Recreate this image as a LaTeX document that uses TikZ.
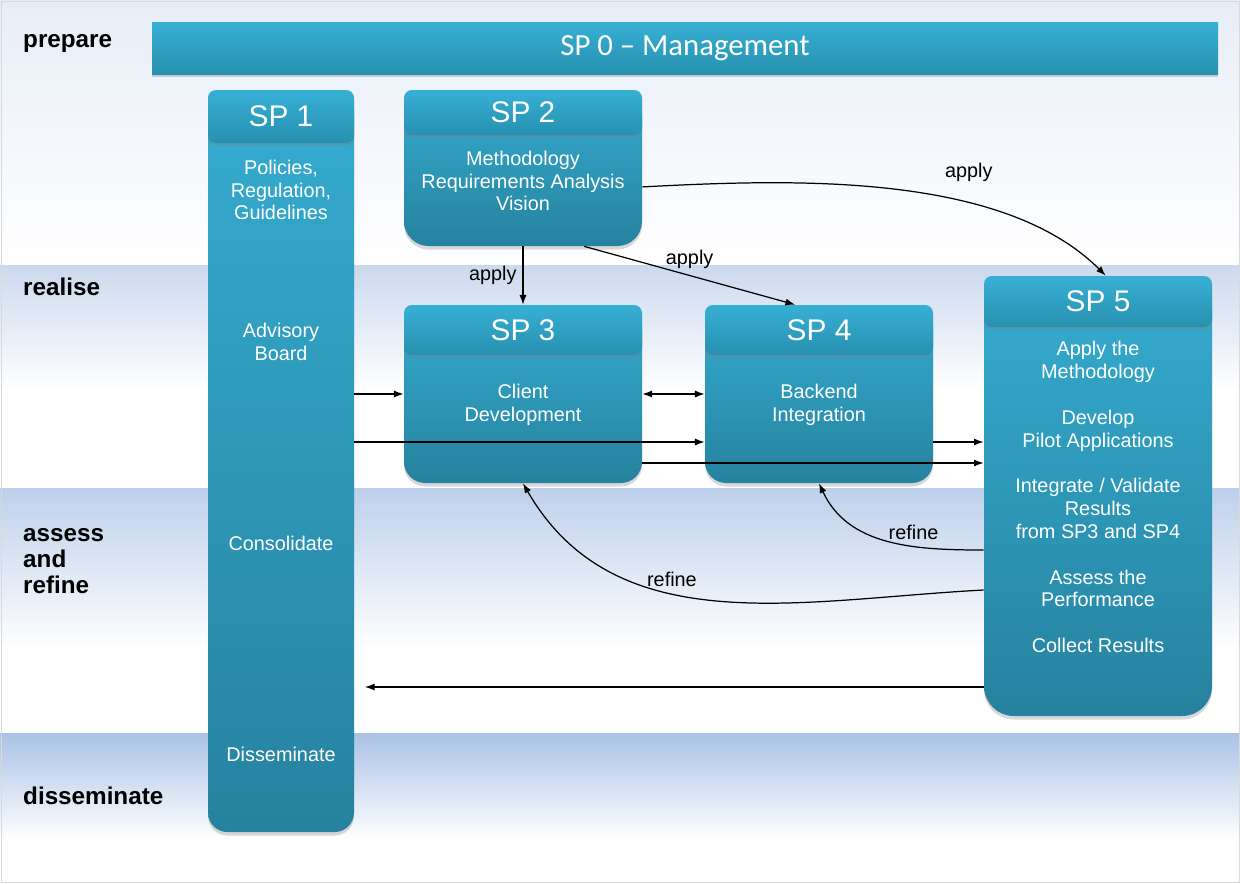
\documentclass[tikz,border=0pt]{standalone}
\usepackage{fontspec}
\setmainfont{Liberation Sans}
\newfontfamily\mgmtfont{Carlito}
\usepackage{xcolor}
\usepackage{tikz}
\usetikzlibrary{arrows.meta,positioning,fit,shadows}

\definecolor{boxtop}{HTML}{35ACD0}
\definecolor{boxbot}{HTML}{26829F}
\definecolor{headtop}{HTML}{37B0D5}
\definecolor{headbot}{HTML}{2790AF}
\definecolor{bandA}{HTML}{E7EDF7}
\definecolor{bandB}{HTML}{CBD9EE}
\definecolor{bandC}{HTML}{BDD0EB}
\definecolor{bandD}{HTML}{A9C2E5}

\begin{document}
\begin{tikzpicture}[x=0.02cm, y=-0.02cm, >={Latex[length=5.5pt,width=4pt]},
  spbody/.style={inner sep=0pt, rounded corners=#1, top color=boxtop, bottom color=boxbot,
    drop shadow={opacity=0.3, shadow xshift=0pt, shadow yshift=-2pt}},
  spbody/.default=12pt,
  sphead/.style={inner sep=0pt, rounded corners=4.5pt, top color=headtop, bottom color=headbot,
    drop shadow={opacity=0.35, shadow xshift=0pt, shadow yshift=-1.5pt}},
  sptitle/.style={text=white, font=\fontsize{17}{20}\selectfont},
  sptext/.style={text=white, align=center, font=\fontsize{11.3}{13}\selectfont},
  phase/.style={anchor=west, align=left, font=\bfseries\fontsize{13.8}{15}\selectfont},
  arrlabel/.style={font=\fontsize{11.3}{13}\selectfont},
  conn/.style={->, line width=0.7pt}]

  % phases in the background
  \useasboundingbox (0,0) rectangle (1240,883);
  \fill[white] (0,0) rectangle (1240,883);
  \shade[top color=bandA, bottom color=white] (0,0) rectangle (1240,265);
  \shade[top color=bandB, bottom color=white] (0,265) rectangle (1240,390);
  \shade[top color=bandC, bottom color=white] (0,488) rectangle (1240,650);
  \shade[top color=bandD, bottom color=white] (0,733) rectangle (1240,840);
  \draw[black!15] (1,1) rectangle (1239,882);

  \node[phase] (prep) at (17,43) {prepare};
  \node[phase] (real) at (17,287) {realise};
  \node[phase] (assr) at (17,561) {assess\\and\\refine};
  \node[phase] (diss) at (17,796) {disseminate};

  % sub-projects
  \node[sphead, rounded corners=0pt, fit={(152,22) (1218,74)}] (sp0) {};
  \node[sptitle, font=\mgmtfont\fontsize{17.5}{20}\selectfont] (sp0t) at (sp0.center) {SP 0 – Management};

  \node[spbody=11pt, fit={(208,90) (354,832)}] (sp1) {};
  \node[sphead, fit={(208,90) (354,143)}] (sp1h) {};
  \node[sptitle] (sp1t) at (sp1h.center) {SP 1};
  \node[sptext] (sp1a) at (281,190) {Policies,\\Regulation,\\Guidelines};
  \node[sptext] (sp1b) at (281,342) {Advisory\\Board};
  \node[sptext] (sp1c) at (281,543) {Consolidate};
  \node[sptext] (sp1d) at (281,754) {Disseminate};

  \node[spbody=14pt, fit={(404,90) (642,246)}] (sp2) {};
  \node[sphead, fit={(404,90) (642,135)}] (sp2h) {};
  \node[sptitle] (sp2t) at (sp2h.center) {SP 2};
  \node[sptext] (sp2a) at (523,181) {Methodology\\Requirements Analysis\\Vision};

  \node[spbody, fit={(404,305) (642,483)}] (sp3) {};
  \node[sphead, fit={(404,305) (642,355)}] (sp3h) {};
  \node[sptitle] (sp3t) at (sp3h.center) {SP 3};
  \node[sptext] (sp3a) at (523,405) {Client\\Development};

  \node[spbody, fit={(705,305) (933,483)}] (sp4) {};
  \node[sphead, fit={(705,305) (933,355)}] (sp4h) {};
  \node[sptitle] (sp4t) at (sp4h.center) {SP 4};
  \node[sptext] (sp4a) at (819,405) {Backend\\Integration};

  \node[spbody=17pt, fit={(984,276) (1212,716)}] (sp5) {};
  \node[sphead, fit={(984,276) (1212,327)}] (sp5h) {};
  \node[sptitle] (sp5t) at (sp5h.center) {SP 5};
  \node[sptext] (sp5a) at (1098,497) {Apply the\\Methodology\\[13pt]
    Develop\\Pilot Applications\\[13pt]
    Integrate / Validate\\Results\\from SP3 and SP4\\[13pt]
    Assess the\\Performance\\[13pt]
    Collect Results};

  % arrow levels
  \coordinate (lvA) at (0,442);
  \coordinate (lvB) at (0,463);
  \coordinate (lvC) at (0,550);
  \coordinate (lvD) at (0,590);
  \coordinate (lvE) at (0,687);

  \draw[conn] (sp2.south) -- node[arrlabel, left] {apply} (sp3.north);
  \draw[conn] (sp2.-52) -- node[arrlabel, above] {apply} (sp4.105);
  \draw[conn] (sp2.-9) to[out=3, in=135, looseness=0.8]
    node[arrlabel, pos=0.66, above=9pt] {apply} (sp5.88);

  \draw[conn] (sp1.east |- sp3.west) -- (sp3.west);
  \draw[conn, <->] (sp3.east) -- (sp4.west);
  \draw[conn] (sp1.east |- lvA) -- (sp4.west |- lvA);
  \draw[conn] (sp4.east |- lvA) -- (sp5.west |- lvA);
  \draw[conn] (sp3.east |- lvB) -- (sp5.west |- lvB);

  \draw[conn] (sp5.west |- lvC) to[out=180, in=-65]
    node[arrlabel, pos=0.35, above] {refine} (sp4.south);
  \draw[conn] (sp5.west |- lvD) to[out=183, in=-60]
    node[arrlabel, pos=0.6, above] {refine} (sp3.south);
  \draw[conn, shorten >=6pt] (sp5.west |- lvE) -- (sp1.east |- lvE);
\end{tikzpicture}
\end{document}
